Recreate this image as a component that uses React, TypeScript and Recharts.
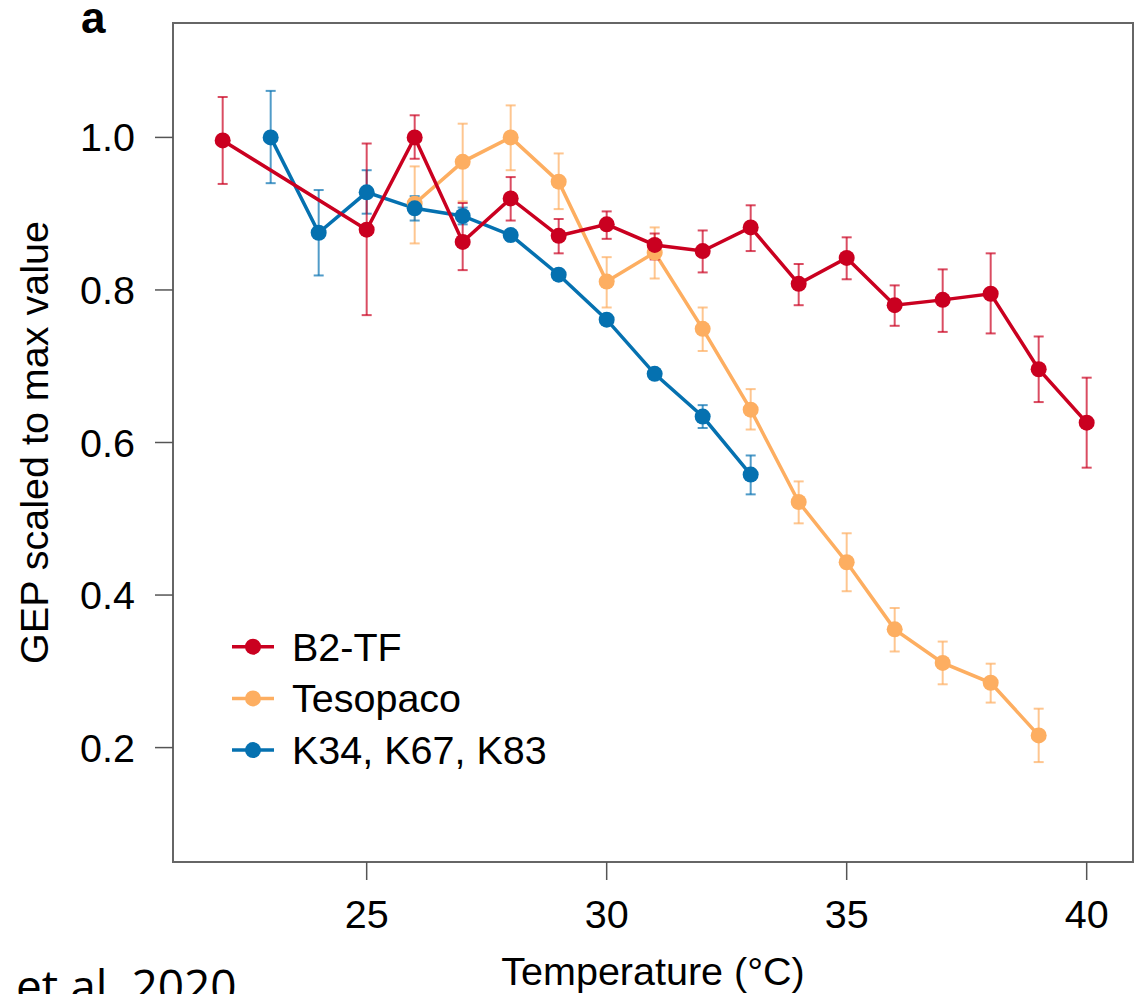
import { LineChart, Line, XAxis, YAxis, ErrorBar, ReferenceArea, Legend } from 'recharts';

// B2-TF
const redTemps = [22, 25, 26, 27, 28, 29, 30, 31, 32, 33, 34, 35, 36, 37, 38, 39, 40];
const redValues = [0.996, 0.879, 1.0, 0.863, 0.92, 0.871, 0.886, 0.859, 0.851, 0.882, 0.808, 0.842, 0.78, 0.787, 0.795, 0.696, 0.626];
const redLower = [0.939, 0.767, 0.972, 0.826, 0.891, 0.848, 0.867, 0.84, 0.823, 0.851, 0.78, 0.814, 0.753, 0.745, 0.743, 0.653, 0.567];
const redUpper = [1.053, 0.992, 1.029, 0.914, 0.948, 0.893, 0.903, 0.874, 0.878, 0.911, 0.834, 0.869, 0.806, 0.827, 0.848, 0.739, 0.685];

// Tesopaco
const orangeTemps = [26, 27, 28, 29, 30, 31, 32, 33, 34, 35, 36, 37, 38, 39];
const orangeValues = [0.913, 0.968, 1.0, 0.942, 0.811, 0.849, 0.749, 0.643, 0.522, 0.443, 0.355, 0.311, 0.285, 0.216];
const orangeLower = [0.861, 0.916, 0.957, 0.906, 0.777, 0.815, 0.72, 0.617, 0.494, 0.405, 0.326, 0.283, 0.259, 0.181];
const orangeUpper = [0.962, 1.018, 1.042, 0.979, 0.843, 0.882, 0.777, 0.67, 0.549, 0.481, 0.383, 0.339, 0.31, 0.251];

// K34, K67, K83
const blueTemps = [23, 24, 25, 26, 27, 28, 29, 30, 31, 32, 33];
const blueValues = [1.0, 0.875, 0.928, 0.907, 0.897, 0.872, 0.82, 0.761, 0.69, 0.634, 0.558];
const blueLower = [0.94, 0.819, 0.9, 0.891, 0.886, 0.866, 0.815, 0.756, 0.684, 0.619, 0.532];
const blueUpper = [1.061, 0.931, 0.957, 0.923, 0.908, 0.878, 0.825, 0.766, 0.696, 0.649, 0.583];

const xTicks = [25, 30, 35, 40];
const yTicks = [0.2, 0.4, 0.6, 0.8, 1.0];
const xDomain: [number, number] = [20.965, 40.965];
const yDomain: [number, number] = [0.05, 1.15];

const FONT = '"Liberation Sans", Arial, Helvetica, sans-serif';
const FS = 39.5;

const toRows = (t: number[], v: number[], lo: number[], hi: number[]) =>
  t.map((x, i) => ({ t: x, v: v[i], err: [v[i] - lo[i], hi[i] - v[i]] }));

const series = [
  { name: 'B2-TF', color: '#CA0020', rows: toRows(redTemps, redValues, redLower, redUpper) },
  { name: 'Tesopaco', color: '#FDAE61', rows: toRows(orangeTemps, orangeValues, orangeLower, orangeUpper) },
  { name: 'K34, K67, K83', color: '#0571B0', rows: toRows(blueTemps, blueValues, blueLower, blueUpper) },
];

// draw order: orange under blue under red
const drawOrder = [series[1], series[2], series[0]];

const renderLegend = () => (
  <svg width={360} height={160} style={{ display: 'block' }}>
    {series.map((s, i) => {
      const cy = 28.7 + i * 51.7;
      return (
        <g key={s.name}>
          <line x1={12} x2={54} y1={cy} y2={cy} stroke={s.color} strokeWidth={3.5} />
          <circle cx={33} cy={cy} r={8} fill={s.color} />
          <text x={72} y={cy} dy="0.355em" fontSize={FS} fontFamily={FONT} fill="#000">
            {s.name}
          </text>
        </g>
      );
    })}
  </svg>
);

export default function App() {
  return (
    <div style={{ position: 'absolute', left: 0, top: 0, width: 1135, height: 994, background: '#fff', overflow: 'hidden' }}>
      <LineChart width={1135} height={994} margin={{ top: 23, right: 2, bottom: 0, left: 0 }} style={{ fontFamily: FONT }}>
        <XAxis
          type="number"
          dataKey="t"
          domain={xDomain}
          ticks={xTicks}
          allowDataOverflow
          height={132}
          axisLine={false}
          tickSize={18}
          tickMargin={20}
          tickLine={{ stroke: '#555', strokeWidth: 1.5 }}
          tick={{ fill: '#000', fontSize: FS, fontFamily: FONT }}
          label={{ value: 'Temperature (°C)', position: 'insideBottom', offset: 9, fill: '#000', fontSize: FS, fontFamily: FONT }}
        />
        <YAxis
          type="number"
          domain={yDomain}
          ticks={yTicks}
          allowDataOverflow
          width={173}
          axisLine={false}
          tickSize={18}
          tickMargin={20}
          tickFormatter={(v: number) => v.toFixed(1)}
          tickLine={{ stroke: '#555', strokeWidth: 1.5 }}
          tick={{ fill: '#000', fontSize: FS, fontFamily: FONT }}
          label={{ value: 'GEP scaled to max value', angle: -90, position: 'center', dx: -53, fill: '#000', fontSize: FS, fontFamily: FONT }}
        />
        <ReferenceArea x1={xDomain[0]} x2={xDomain[1]} y1={yDomain[0]} y2={yDomain[1]} fill="none" stroke="#666" strokeWidth={2} ifOverflow="visible" />
        {drawOrder.map((s) => (
          <Line
            key={s.name}
            name={s.name}
            data={s.rows}
            dataKey="v"
            stroke={s.color}
            strokeWidth={3.5}
            dot={{ r: 8, fill: s.color, stroke: s.color, strokeWidth: 0 }}
            activeDot={false}
            isAnimationActive={false}
          >
            <ErrorBar dataKey="err" direction="y" width={5} stroke={s.color} strokeOpacity={0.7} strokeWidth={2} isAnimationActive={false} />
          </Line>
        ))}
        <Legend
          layout="vertical"
          align="center"
          verticalAlign="middle"
          content={renderLegend}
          wrapperStyle={{ left: 220, top: 618, width: 360, height: 160 }}
        />
      </LineChart>
      <svg width={1135} height={994} style={{ position: 'absolute', left: 0, top: 0, pointerEvents: 'none' }}>
        <text x={81} y={33} fontSize={44} fontWeight="bold" fontFamily={FONT} fill="#000">a</text>
        <text x={16} y={1003} fontSize={46} fontFamily='"Open Sans", "Noto Sans", sans-serif' fill="#000">et al. 2020</text>
      </svg>
    </div>
  );
}
